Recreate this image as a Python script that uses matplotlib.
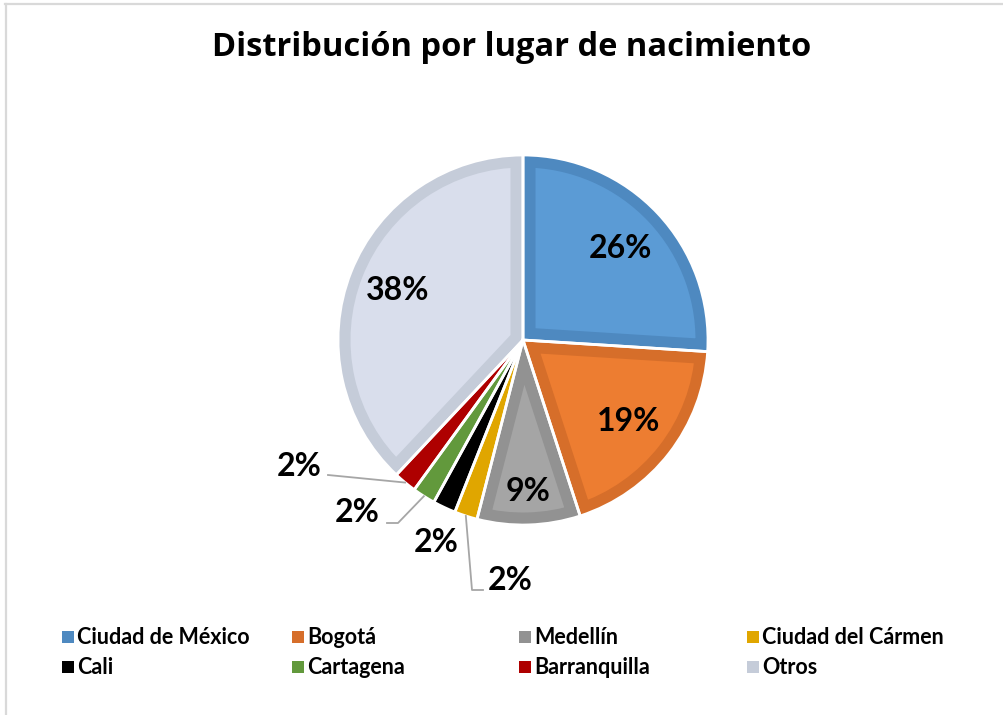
import matplotlib
matplotlib.use("Agg")
import matplotlib.pyplot as plt
import numpy as np
from matplotlib.lines import Line2D
from matplotlib.patches import Rectangle

plt.rcParams['font.family'] = ['Lato', 'DejaVu Sans']

# ── Data ──────────────────────────────────────────────────
labels = ["Ciudad de México", "Bogotá", "Medellín", "Ciudad del Cármen",
          "Cali", "Cartagena", "Barranquilla", "Otros"]
values = [26, 19, 9, 2, 2, 2, 2, 38]
fill_colors = ["#5B9BD5", "#ED7D31", "#A5A5A5", "#EDB100",
               "#000000", "#70AD47", "#C00000", "#D9DEEC"]
edge_colors = ["#4E89C0", "#D66E2A", "#929292", "#E0A600",
               "#000000", "#62993C", "#AE0000", "#C5CCD9"]
title = "Distribución por lugar de nacimiento"

# ── Figure ────────────────────────────────────────────────
W, H = 1004, 715
fig = plt.figure(figsize=(W / 100, H / 100), dpi=100)

# frame lines (top / left only, the rest is cropped)
fig.add_artist(Line2D([5 / W, 1], [1 - 4 / H, 1 - 4 / H], color="#D9D9D9", lw=1.6))
fig.add_artist(Line2D([6 / W, 6 / W], [0, 1 - 4 / H], color="#D9D9D9", lw=1.6))

fig.text(512 / W, 1 - 48 / H, title, ha="center", va="center",
         fontsize=23.5, fontweight="bold", family=["Open Sans", "DejaVu Sans"])

# pie axes: centre (523, 340) px, radius 185 px
cx, cy, R = 523, 340, 185
ax = fig.add_axes([(cx - R) / W, (H - cy - R) / H, 2 * R / W, 2 * R / H])

wedges, _ = ax.pie(values, colors=fill_colors, startangle=90, counterclock=False,
                   wedgeprops=dict(linewidth=18, edgecolor="none"))
for w, ec in zip(wedges, edge_colors):
    w.set_edgecolor(ec)
    w.set_clip_path(w)
    w.set_clip_on(True)
# white separators
ax.pie(values, startangle=90, counterclock=False,
       wedgeprops=dict(fill=False, linewidth=2, edgecolor="white"))
ax.set_xlim(-1, 1); ax.set_ylim(-1, 1)
ax.set_aspect("equal"); ax.axis("off")

# inside labels
total = sum(values)
cum = np.cumsum([0] + values)
mid_ang = [np.deg2rad(90 - 360 * (cum[i] + values[i] / 2) / total) for i in range(len(values))]
inside = {0: 0.72, 1: 0.72, 2: 0.82, 7: 0.73}
for i, r in inside.items():
    ax.text(r * np.cos(mid_ang[i]), r * np.sin(mid_ang[i]), f"{values[i]}%",
            ha="center", va="center", fontsize=23, fontweight="bold")

# outside labels (layout positions in pixels) and leader lines
def px(x, y):
    return (x - cx) / R, (cy - y) / R

outside = {
    3: dict(text=(510, 580), line=[(472, 590), (483, 590)]),
    4: dict(text=(436, 543), line=None),
    5: dict(text=(357, 512), line=[(398, 523), (387, 523)]),
    6: dict(text=(299, 467), line=[(328, 475)]),
}
for i, o in outside.items():
    tx, ty = px(*o["text"])
    ax.text(tx, ty, f"{values[i]}%", ha="center", va="center",
            fontsize=23, fontweight="bold", clip_on=False)
    if o["line"]:
        pts = [(np.cos(mid_ang[i]), np.sin(mid_ang[i]))] + [px(*p) for p in o["line"]]
        xs, ys = zip(*pts)
        ax.plot(xs, ys, color="#A6A6A6", lw=1.3, clip_on=False)

# legend (manual, 4 columns x 2 rows)
col_x = [62, 292, 519, 747]
row_y = [637, 667]
for k, (lab, c) in enumerate(zip(labels, edge_colors)):
    x0 = col_x[k % 4]
    y0 = row_y[k // 4]
    fig.add_artist(Rectangle((x0 / W, 1 - (y0 + 6) / H), 12 / W, 12 / H,
                             transform=fig.transFigure, color=c, lw=0))
    fig.text((x0 + 15) / W, 1 - y0 / H, lab, ha="left", va="center",
             fontsize=15.5, fontweight="bold")

fig.savefig("out.png", dpi=100)
